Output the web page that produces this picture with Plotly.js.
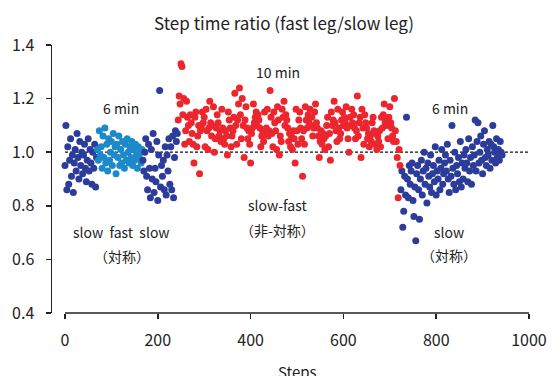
<!DOCTYPE html>
<html>
<head>
<meta charset="utf-8">
<script src="https://cdn.plot.ly/plotly-3.0.1.min.js"></script>
<style>html,body{margin:0;padding:0;background:#fff;}#chart{width:552px;height:376px;}</style>
</head>
<body>
<div id="chart"></div>
<script>
// First step of each phase and spacing between plotted steps
const slow1Start = 0;
const fastStart = 70;
const slow2Start = 168;
const splitStart = 244;
const postStart = 724;
const stepInterval = 2;

// Step time ratio values
const slow1Values = [
0.95,1.10,0.86,1.02,0.88,0.97,1.05,0.91,0.99,0.85,
0.96,1.01,0.93,1.07,0.98,0.90,1.04,0.95,1.00,0.92,
0.99,1.03,0.94,0.89,0.97,1.05,0.93,1.01,0.96,0.88,
1.00,0.94,1.03,0.87,0.98];

const fastValues = [
1.01,0.97,1.08,0.99,1.02,0.94,1.06,0.98,1.09,0.96,
1.03,0.93,1.05,0.97,1.00,1.04,0.95,1.07,0.99,1.02,
0.92,1.03,0.98,1.06,0.95,1.01,0.96,1.04,0.99,0.94,
1.03,0.97,1.05,1.00,0.96,1.02,0.98,1.04,0.95,1.01,
0.97,1.03,0.99,0.94,1.02,0.98,1.00,0.96,1.01];

const slow2Values = [
0.97,0.93,1.00,1.05,0.91,0.86,1.03,0.94,0.83,1.01,
0.90,1.07,0.85,0.94,0.89,1.04,0.82,0.99,1.23,0.87,
0.95,0.91,0.97,0.86,1.02,0.84,0.99,0.93,1.05,0.88,
1.02,0.86,1.06,0.83,0.98,1.08,1.04,1.07];

const splitValues = [
1.12,1.21,1.18,1.33,1.32, 1.14,1.20,1.03,1.08,1.19,
1.13,1.10,1.04,1.14,1.11, 1.07,1.03,0.96,1.13,1.15,
1.02,1.06,1.10,0.92,1.08, 1.09,1.15,1.11,1.13,1.02,
1.16,1.08,1.01,1.09,1.19, 1.11,1.06,1.10,1.17,1.00,
1.05,1.09,1.14,1.11,1.06, 1.08,1.04,1.16,1.09,1.05,
1.03,1.08,1.06,0.99,1.15, 1.12,1.09,1.02,1.06,1.08,
1.13,1.22,1.10,1.03,1.12, 1.18,1.24,1.14,1.05,1.20,
1.10,0.98,1.12,1.17,1.09, 1.05,1.08,1.03,0.96,1.07,
1.09,1.18,1.11,1.13,1.15, 1.10,1.14,1.12,1.09,1.02,
1.06,1.08,1.04,1.15,1.07, 1.09,1.16,1.06,1.08,1.23,
1.13,1.07,1.02,1.15,1.11, 1.08,1.01,1.17,1.12,0.99,
1.06,1.04,1.16,1.13,1.19, 1.10,1.14,1.12,1.09,1.04,
1.07,1.02,1.06,1.01,1.08, 1.05,0.96,1.16,1.08,1.03,
1.12,1.15,1.09,1.05,0.91, 1.08,1.03,1.17,1.12,1.09,
1.14,1.11,1.16,1.10,1.13, 1.06,1.09,1.15,1.18,1.11,
1.09,1.06,0.98,1.04,1.08, 1.03,1.07,1.05,1.01,1.06,
1.10,1.13,1.02,1.07,0.97, 1.15,1.10,1.12,1.19,1.11,
1.08,1.04,1.16,1.09,1.05, 1.07,1.12,1.15,1.10,1.13,
1.11,1.17,1.09,1.05,1.00, 1.13,1.10,1.16,1.11,1.14,
1.09,1.05,1.08,1.21,1.06, 1.11,1.13,0.98,1.16,1.09,
1.03,1.14,1.11,1.09,1.05, 1.07,1.02,1.06,1.04,1.11,
1.13,1.08,1.03,1.07,1.01, 1.06,1.04,1.08,1.02,1.13,
1.09,1.14,1.18,1.11,1.12, 1.10,1.05,1.13,1.17,1.11,
1.09,1.06,1.04,1.20,1.08, 1.04,0.98,0.83,1.01,0.95];

const postValues = [
0.86,0.93,0.72,0.78,0.91, 0.84,1.13,0.90,0.83,0.95,
0.88,0.93,0.96,0.82,0.76, 0.87,0.67,0.92,0.95,0.86,
0.75,0.90,0.97,0.84,0.93, 1.00,0.88,0.94,0.81,0.96,
0.91,0.87,0.99,0.85,0.92, 0.95,0.89,1.02,0.84,0.93,
0.90,0.97,0.86,0.94,1.01, 0.88,0.92,0.96,0.99,0.93,
1.03,0.90,0.85,0.97,0.91, 1.10,0.94,0.88,1.00,0.86,
0.95,0.92,0.98,0.89,1.04, 0.87,0.96,0.90,0.99,0.94,
1.01,0.96,0.89,1.05,0.93, 0.98,0.88,1.02,0.95,0.99,
1.12,0.93,1.04,1.11,0.96, 1.00,1.06,0.97,0.92,1.03,
1.08,0.98,0.95,1.01,0.99, 1.04,0.94,1.03,0.97,1.10,
1.02,1.00,0.96,1.05,0.98, 1.01,0.97,1.04,1.00,0.99];

const xTicks = [0, 200, 400, 600, 800, 1000];
const yTicks = [0.4, 0.6, 0.8, 1.0, 1.2, 1.4];
const referenceLevel = 1.0;

const darkBlue = 'rgb(44,60,155)';
const lightBlue = 'rgb(28,138,200)';
const red = 'rgb(236,38,46)';
const FONT = '"Noto Sans CJK JP", "Noto Sans", Arial, sans-serif';

function steps(start, values) { return values.map((_, i) => start + i * stepInterval); }
function seg(start, values, color) {
  return {
    x: steps(start, values), y: values, type: 'scatter', mode: 'markers',
    marker: {color: color, size: 7, line: {width: 0}},
    hoverinfo: 'x+y', showlegend: false, cliponaxis: false
  };
}

const data = [
  seg(slow1Start, slow1Values, darkBlue),
  seg(fastStart, fastValues, lightBlue),
  seg(slow2Start, slow2Values, darkBlue),
  seg(postStart, postValues, darkBlue),
  seg(splitStart, splitValues, red)
];

const annFont = {family: FONT, size: 14, color: '#222'};
function ann(x, y, text) {
  return {x: x, y: y, xref: 'x', yref: 'y', text: text, showarrow: false, font: annFont, xanchor: 'center', yanchor: 'middle'};
}

const layout = {
  width: 552, height: 376,
  margin: {l: 52, r: 23, t: 45, b: 63},
  paper_bgcolor: '#fff', plot_bgcolor: '#fff',
  font: {family: FONT, color: '#222'},
  title: {text: 'Step time ratio (fast leg/slow leg)', font: {family: FONT, size: 17, color: '#222'},
          x: 0.5145, xref: 'container', y: 0.953, yref: 'container', xanchor: 'center'},
  xaxis: {
    range: [-28, 1000], showline: false, showgrid: false, zeroline: false,
    tickmode: 'array', tickvals: xTicks, ticktext: xTicks.map(String),
    ticks: 'outside', ticklen: 5, tickwidth: 1.5, tickcolor: '#222',
    tickfont: {family: FONT, size: 16, color: '#222'}, ticklabelstandoff: 8
  },
  yaxis: {
    range: [0.4, 1.4], showline: true, linecolor: '#222', linewidth: 1.5,
    showgrid: false, zeroline: false,
    tickmode: 'array', tickvals: yTicks, ticktext: yTicks.map(v => v.toFixed(1)),
    ticks: 'outside', ticklen: 5, tickwidth: 1.5, tickcolor: '#222',
    tickfont: {family: FONT, size: 16, color: '#222'}, ticklabelstandoff: 8
  },
  shapes: [
    {type: 'line', xref: 'x', yref: 'y', x0: 0, x1: 1000, y0: referenceLevel, y1: referenceLevel,
     line: {color: '#111', width: 1.3, dash: '3px,2px'}, layer: 'below'},
    {type: 'line', xref: 'x', yref: 'paper', x0: 0, x1: 1000, y0: 0, y1: 0,
     line: {color: '#222', width: 1.5}, layer: 'above'}
  ],
  annotations: [
    ann(121, 1.165, '6 min'),
    ann(459, 1.299, '10 min'),
    ann(830, 1.165, '6 min'),
    ann(121, 0.702, 'slow&nbsp;&nbsp;fast&nbsp;&nbsp;slow'),
    ann(122, 0.613, '（対称）'),
    ann(459, 0.803, 'slow-fast'),
    ann(459, 0.710, '（非-対称）'),
    ann(828, 0.702, 'slow'),
    ann(827, 0.616, '（対称）'),
    {x: 500, y: -0.17, xref: 'x', yref: 'paper', text: 'Steps', showarrow: false,
     font: {family: FONT, size: 15, color: '#222'}, xanchor: 'center', yanchor: 'top'}
  ]
};

Plotly.newPlot('chart', data, layout, {displayModeBar: false, staticPlot: true});
</script>
</body>
</html>
